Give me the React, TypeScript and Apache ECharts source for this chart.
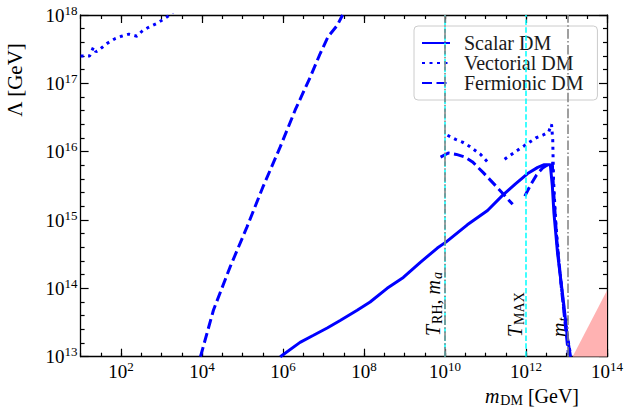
import React, { useEffect, useRef } from 'react';
import * as echarts from 'echarts';

// All values are log10 of the quantity in GeV.
const xTickExps = [2, 4, 6, 8, 10, 12, 14];
const yTickExps = [13, 14, 15, 16, 17, 18];

const scalarX = [5.93, 6.42, 6.74, 7.09, 7.41, 7.83, 8.15, 8.57, 8.97, 9.39, 9.81, 10.03, 10.55, 11.05, 11.42, 11.74, 12.04, 12.29, 12.45, 12.6, 12.65, 12.69, 12.78, 12.86, 12.94, 13.02, 13.1];
const scalarY = [13.0, 13.21, 13.31, 13.42, 13.53, 13.68, 13.8, 14.0, 14.16, 14.38, 14.59, 14.68, 14.93, 15.14, 15.36, 15.53, 15.68, 15.77, 15.81, 15.81, 15.5, 15.1, 14.51, 14.12, 13.73, 13.29, 13.0];

const vectorAX = [1.0, 1.22, 1.32, 1.38, 1.52, 1.67, 1.84, 2.01, 2.19, 2.39, 2.53, 2.68, 2.86, 3.03, 3.18, 3.28];
const vectorAY = [17.4, 17.4, 17.53, 17.46, 17.52, 17.59, 17.65, 17.69, 17.72, 17.69, 17.77, 17.82, 17.87, 17.93, 17.99, 18.04];
const vectorBX = [10.06, 10.26, 10.43, 10.6, 10.88, 11.05];
const vectorBY = [16.24, 16.18, 16.14, 16.08, 15.96, 15.85];
const vectorCX = [11.47, 11.64, 11.79, 11.94, 12.24, 12.41, 12.56, 12.63, 12.66, 12.68, 12.73, 12.81, 12.91, 13.0, 13.1];
const vectorCY = [15.89, 15.96, 16.02, 16.08, 16.2, 16.24, 16.29, 16.4, 16.17, 15.58, 15.0, 14.41, 13.83, 13.39, 13.02];

const fermionAX = [3.96, 4.28, 4.69, 5.11, 5.5, 5.93, 6.3, 6.67, 6.92, 7.11, 7.34, 7.47];
const fermionAY = [13.0, 13.68, 14.31, 14.9, 15.48, 16.07, 16.61, 17.09, 17.44, 17.68, 17.85, 18.0];
const fermionBX = [9.89, 10.08, 10.28, 10.5, 10.68, 10.95, 11.3, 11.5, 11.67];
const fermionBY = [15.92, 15.98, 15.96, 15.92, 15.85, 15.69, 15.47, 15.34, 15.23];
const fermionCX = [11.97, 12.11, 12.26, 12.41, 12.56, 12.65, 12.68, 12.76, 12.88, 13.05];
const fermionCY = [15.35, 15.51, 15.66, 15.76, 15.82, 15.83, 15.44, 14.71, 13.97, 13.02];

const excludedX = [13.15, 14.0];
const excludedY = [13.0, 13.97];

const tRH = 10;
const tMax = 12;
const mTop = 13.045;

const legendNames = ['Scalar DM', 'Vectorial DM', 'Fermionic DM'];

const SERIF = '"Liberation Serif", "DejaVu Serif", serif';
const BLUE = '#0000ff';
const DOTTED = [3, 4.5];
const DASHED = [10, 4.5];
const CYAN_DASH = [5.5, 2.4];
const GRAY_DASHDOT = [9.6, 2.4, 1.5, 2.4];

const zip = (xs: number[], ys: number[]) => xs.map((x, i) => [x, ys[i]]);

const tickRich = {
  b: { fontSize: 19, fontFamily: SERIF, color: '#000' },
  s: { fontSize: 13, fontFamily: SERIF, color: '#000', padding: [0, 0, 10, 0] },
};
const tickFmt = (v: number) => `{b|10}{s|${Math.round(v)}}`;

const annRich = {
  i: { fontFamily: SERIF, fontSize: 20, fontStyle: 'italic', fill: '#000' },
  sub: { fontFamily: SERIF, fontSize: 14, fill: '#000', padding: [8, 0, 0, 1] },
  subi: { fontFamily: SERIF, fontSize: 14, fontStyle: 'italic', fill: '#000', padding: [8, 0, 0, 1] },
  n: { fontFamily: SERIF, fontSize: 20, fill: '#000' },
};

function blueLine(name: string, xs: number[], ys: number[], type: any) {
  return {
    type: 'line',
    name,
    data: zip(xs, ys),
    symbol: 'none',
    showSymbol: false,
    xAxisIndex: 0,
    yAxisIndex: 0,
    z: 3,
    silent: true,
    emphasis: { disabled: true },
    itemStyle: { color: BLUE },
    lineStyle: { color: BLUE, width: 3, type },
  };
}

export default function App() {
  const ref = useRef<HTMLDivElement>(null);
  useEffect(() => {
    if (!ref.current) return;
    const chart = echarts.init(ref.current, undefined, { renderer: 'svg' });
    const axisLine = { show: true, lineStyle: { color: '#000', width: 1.3 } };
    const tickLine = { color: '#000', width: 1.2 };
    const xBase = { type: 'value', min: 1, max: 14, splitLine: { show: false } };
    const yBase = { type: 'value', min: yTickExps[0], max: yTickExps[yTickExps.length - 1], interval: 1, splitLine: { show: false } };

    const option: any = {
      animation: false,
      grid: { left: 80.6, right: 21, top: 15, bottom: 51.3, containLabel: false },
      xAxis: [
        {
          ...xBase, position: 'bottom', interval: 1, axisLine,
          axisTick: { show: true, inside: true, length: 8, lineStyle: tickLine, customValues: xTickExps },
          axisLabel: { customValues: xTickExps, formatter: tickFmt, rich: tickRich, margin: 3, verticalAlign: 'top' },
        },
        {
          ...xBase, position: 'bottom', interval: 0.5, axisLine: { show: false },
          axisTick: { show: true, inside: true, length: 4, lineStyle: tickLine },
          axisLabel: { show: false },
        },
        {
          ...xBase, position: 'top', interval: 1, axisLine,
          axisTick: { show: true, inside: true, length: 8, lineStyle: tickLine, customValues: xTickExps },
          axisLabel: { show: false },
        },
        {
          ...xBase, position: 'top', interval: 0.5, axisLine: { show: false },
          axisTick: { show: true, inside: true, length: 4, lineStyle: tickLine },
          axisLabel: { show: false },
        },
      ],
      yAxis: [
        {
          ...yBase, position: 'left', axisLine,
          axisTick: { show: true, inside: true, length: 8, lineStyle: tickLine },
          minorTick: { show: true, splitNumber: 5, length: 4, lineStyle: tickLine },
          axisLabel: { formatter: tickFmt, rich: tickRich, margin: 3 },
        },
        {
          ...yBase, position: 'right', axisLine,
          axisTick: { show: true, inside: true, length: 8, lineStyle: tickLine },
          minorTick: { show: true, splitNumber: 5, length: 4, lineStyle: tickLine },
          axisLabel: { show: false },
        },
      ],
      legend: {
        data: legendNames,
        orient: 'vertical',
        left: 414,
        top: 26,
        itemWidth: 28,
        itemHeight: 14,
        itemGap: 0,
        selectedMode: false,
        padding: [7, 14, 7, 7],
        backgroundColor: 'rgba(255,255,255,0.8)',
        borderColor: '#cccccc',
        borderWidth: 1,
        borderRadius: 4,
        itemStyle: { opacity: 0, borderWidth: 0 },
        textStyle: { fontFamily: SERIF, fontSize: 20, color: '#1a1a1a', lineHeight: 20, padding: [0, 0, 0, 9] },
      },
      series: [
        {
          type: 'line',
          name: 'excluded',
          data: zip(excludedX, excludedY),
          symbol: 'none',
          silent: true,
          z: 1,
          lineStyle: { width: 0, color: '#ffb2b2' },
          areaStyle: { color: '#ffb2b2', opacity: 1, origin: 'start' },
          markLine: {
            silent: true,
            symbol: ['none', 'none'],
            label: { show: false },
            data: [
              { xAxis: tRH, lineStyle: { color: '#00ffff', type: CYAN_DASH, width: 1.5 } },
              { xAxis: tRH, lineStyle: { color: '#808080', type: GRAY_DASHDOT, width: 1.5 } },
              { xAxis: tMax, lineStyle: { color: '#00ffff', type: CYAN_DASH, width: 1.5 } },
              { xAxis: mTop, lineStyle: { color: '#808080', type: GRAY_DASHDOT, width: 1.5 } },
            ],
          },
        },
        blueLine('Scalar DM', scalarX, scalarY, 'solid'),
        blueLine('Vectorial DM', vectorAX, vectorAY, DOTTED),
        blueLine('Vectorial DM', vectorBX, vectorBY, DOTTED),
        blueLine('Vectorial DM', vectorCX, vectorCY, DOTTED),
        blueLine('Fermionic DM', fermionAX, fermionAY, DASHED),
        blueLine('Fermionic DM', fermionBX, fermionBY, DASHED),
        blueLine('Fermionic DM', fermionCX, fermionCY, DASHED),
      ],
      graphic: [
        {
          type: 'text', x: 15, y: 80, rotation: Math.PI / 2, silent: true,
          style: { text: 'Λ [GeV]', fontFamily: SERIF, fontSize: 21, fill: '#000', align: 'center', verticalAlign: 'middle' },
        },
        {
          type: 'text', x: 579, y: 396, silent: true,
          style: { text: '{i|m}{sub|DM}{n| [GeV]}', align: 'right', verticalAlign: 'middle', rich: annRich },
        },
        {
          type: 'text', x: 433, y: 336, rotation: Math.PI / 2, silent: true,
          style: { text: '{i|T}{sub|RH}{n|, }{i|m}{subi|a}', align: 'left', verticalAlign: 'middle', rich: annRich },
        },
        {
          type: 'text', x: 515, y: 337, rotation: Math.PI / 2, silent: true,
          style: { text: '{i|T}{sub|MAX}', align: 'left', verticalAlign: 'middle', rich: annRich },
        },
        {
          type: 'text', x: 559, y: 337, rotation: Math.PI / 2, silent: true,
          style: { text: '{i|m}{subi|t}', align: 'left', verticalAlign: 'middle', rich: annRich },
        },
      ],
    };
    chart.setOption(option);
    return () => chart.dispose();
  }, []);
  return <div ref={ref} style={{ position: 'absolute', left: 0, top: 0, width: 628, height: 408 }} />;
}
